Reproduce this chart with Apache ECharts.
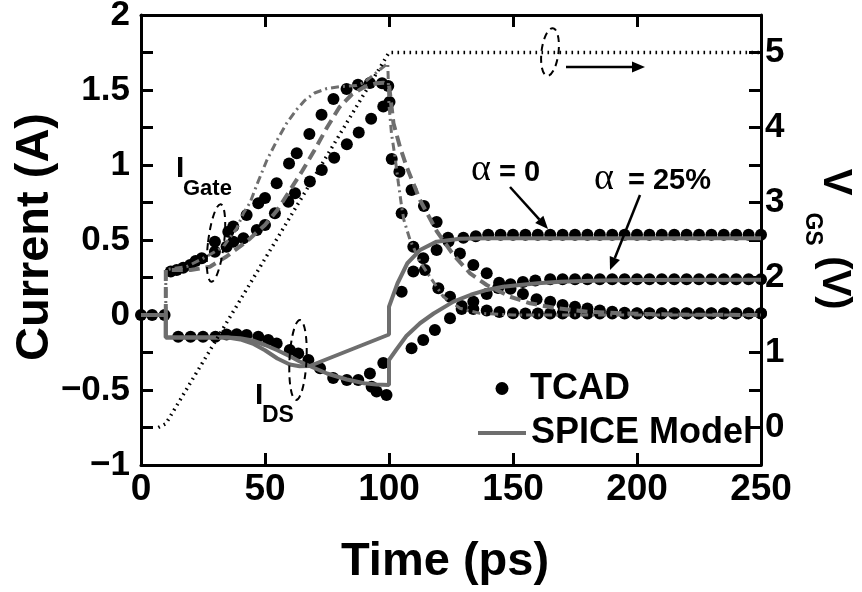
<!DOCTYPE html>
<html>
<head>
<meta charset="utf-8">
<script src="https://cdn.jsdelivr.net/npm/echarts@6/dist/echarts.min.js"></script>
<style>html,body{margin:0;padding:0;background:#fff}#c{width:862px;height:592px}</style>
</head>
<body>
<div id="c"></div>
<script>
// ---------- data (time in ps, current in A, voltage in V) ----------
const xTicks = [0, 50, 100, 150, 200, 250];
const yLeftTicks = [-1, -0.5, 0, 0.5, 1, 1.5, 2];
const yRightTicks = [0, 1, 2, 3, 4, 5];

// gate voltage (right axis)
const vgsT = [7, 10, 100, 250];
const vgsV = [0, 0.05, 5, 5];

// SPICE model, drain current, alpha = 0
const spiceDs0T = [0, 10, 10, 35, 40, 45, 50, 55, 60, 64, 68, 100, 100, 103.4, 107.4, 112.5, 119.2, 128.6, 140, 250];
const spiceDs0I = [0, 0, -0.15, -0.15, -0.163, -0.19, -0.235, -0.29, -0.33, -0.342, -0.34, -0.13, 0.055, 0.21, 0.345, 0.433, 0.489, 0.508, 0.512, 0.512];

// SPICE model, drain current, alpha = 25%
const spiceDs25T = [0, 10, 10, 35, 40, 45, 50, 55, 60, 64, 68, 75, 83, 90, 95, 100, 100, 103, 107, 112.5, 118, 126, 133, 139.4, 146, 152.8, 160, 169, 185, 200, 250];
const spiceDs25I = [0, 0, -0.15, -0.15, -0.155, -0.17, -0.2, -0.235, -0.275, -0.31, -0.34, -0.39, -0.43, -0.455, -0.463, -0.467, -0.3, -0.23, -0.14, -0.055, 0.01, 0.089, 0.135, 0.167, 0.188, 0.2, 0.212, 0.222, 0.23, 0.233, 0.235];

// SPICE model, gate current (dashed)
const spiceGateAT = [10, 10, 20, 27.8, 34.5, 42.6, 50, 55, 60, 65, 70, 75, 80, 85, 90, 95, 98, 100, 101.8, 104.4, 107.1, 112.5, 119.2, 126, 132.7, 139.4, 148.8, 156.9, 167.6, 180, 195, 215, 250];
const spiceGateAI = [0, 0.3, 0.3, 0.322, 0.39, 0.49, 0.6, 0.7, 0.83, 0.96, 1.1, 1.25, 1.385, 1.47, 1.52, 1.545, 1.548, 1.535, 1.278, 1.122, 0.989, 0.767, 0.56, 0.4, 0.278, 0.2, 0.122, 0.078, 0.045, 0.022, 0.01, 0.003, 0];

// SPICE model, gate current (dash-dot)
const spiceGateBT = [10, 10, 11.7, 18.4, 26.5, 33.2, 38.6, 41.3, 44, 47, 50.7, 54.7, 58.8, 62.8, 66, 70, 75, 80, 87, 90, 93.7, 97, 99.5, 100, 101, 102.4, 103.8, 105.1, 106, 108.5, 112.5, 116.5, 121.9, 128.6, 136.7, 150, 250];
const spiceGateBI = [0, 0.3, 0.307, 0.322, 0.39, 0.455, 0.578, 0.678, 0.75, 0.88, 1.03, 1.16, 1.28, 1.37, 1.43, 1.48, 1.51, 1.522, 1.53, 1.55, 1.6, 1.645, 1.678, 1.4, 1.21, 1.056, 0.878, 0.722, 0.633, 0.5, 0.355, 0.255, 0.122, 0.045, 0.011, 0, 0];

// TCAD, gate current (faster rise)
const tcadGate1T = [14.4, 19.8, 24.5, 29.8, 35.2, 37.2, 42.6, 47.3, 50, 54.7, 59.7, 62.8, 67.9, 72.8, 77.6, 82.9, 87.5, 92.3, 97.2, 99.7, 101.1, 104.2, 109.1, 114.1, 119.2, 123.8, 128.6, 134, 139.4, 144.4, 149, 154, 159.5, 165, 170, 175, 180, 185, 190, 195, 200, 205, 210, 215, 220, 225, 230, 235, 240, 245, 250];
const tcadGate1I = [0.3, 0.333, 0.378, 0.489, 0.555, 0.59, 0.667, 0.745, 0.78, 0.878, 1.01, 1.078, 1.207, 1.335, 1.44, 1.506, 1.535, 1.547, 1.545, 1.527, 1.04, 0.955, 0.833, 0.727, 0.62, 0.515, 0.41, 0.333, 0.278, 0.215, 0.175, 0.14, 0.105, 0.089, 0.067, 0.055, 0.044, 0.03, 0.022, 0.015, 0.012, 0.012, 0.012, 0.012, 0.012, 0.012, 0.012, 0.012, 0.012, 0.012, 0.012];

// TCAD, gate current (slower rise)
const tcadGate2T = [12, 17, 22, 29.8, 34.5, 37.2, 41.3, 46.7, 50, 54, 59.4, 62.1, 68.1, 72.9, 77.9, 83, 87.8, 92.8, 97.7, 100.2, 105.1, 109.8, 114.5, 119.9, 124.6, 129.3, 134, 139.4, 144.5, 150, 155, 160, 165, 170, 175, 180, 185, 190, 195, 200, 205, 210, 215, 220, 225, 230, 235, 240, 245, 250];
const tcadGate2I = [0.29, 0.315, 0.36, 0.422, 0.455, 0.489, 0.511, 0.567, 0.6, 0.678, 0.755, 0.811, 0.89, 0.967, 1.049, 1.138, 1.217, 1.308, 1.39, 1.42, 0.678, 0.455, 0.3, 0.178, 0.122, 0.06, 0.04, 0.03, 0.02, 0.012, 0.01, 0.01, 0.01, 0.01, 0.01, 0.01, 0.01, 0.01, 0.01, 0.01, 0.01, 0.01, 0.01, 0.01, 0.01, 0.01, 0.01, 0.01, 0.01, 0.01];

// TCAD, drain current, alpha = 0
const tcadDs0T = [0, 4.5, 9.5, 15, 20, 25, 30, 34.5, 42.6, 51.3, 60, 67.5, 77.5, 87.6, 92.3, 97.7, 105.1, 109.8, 113.8, 119.2, 124, 130, 135, 140, 145, 150, 155, 160, 165, 170, 175, 180, 185, 190, 195, 200, 205, 210, 215, 220, 225, 230, 235, 240, 245, 250];
const tcadDs0I = [0, 0, 0, -0.145, -0.145, -0.145, -0.145, -0.13, -0.133, -0.167, -0.233, -0.3, -0.42, -0.433, -0.39, -0.32, 0.155, 0.29, 0.378, 0.433, 0.49, 0.515, 0.525, 0.535, 0.535, 0.535, 0.535, 0.535, 0.535, 0.535, 0.535, 0.535, 0.535, 0.535, 0.535, 0.535, 0.535, 0.535, 0.535, 0.535, 0.535, 0.535, 0.535, 0.535, 0.535, 0.535];

// TCAD, drain current, alpha = 25%
const tcadDs25T = [38.6, 47.3, 54.7, 63.4, 72.2, 83, 93, 95, 99, 109.1, 113.8, 118.5, 124.6, 129.3, 134, 139.4, 144, 149, 154, 159, 165, 170, 175, 180, 185, 190, 195, 200, 205, 210, 215, 220, 225, 230, 235, 240, 245, 250];
const tcadDs25I = [-0.129, -0.145, -0.19, -0.256, -0.355, -0.433, -0.478, -0.51, -0.533, -0.222, -0.167, -0.1, -0.022, 0.04, 0.089, 0.14, 0.18, 0.205, 0.22, 0.23, 0.238, 0.238, 0.238, 0.238, 0.238, 0.238, 0.238, 0.238, 0.238, 0.238, 0.238, 0.238, 0.238, 0.238, 0.238, 0.238, 0.238, 0.238];

// ---------- chart ----------
const FONT = '"Liberation Sans", Arial, Helvetica, sans-serif';
const SERIF = '"Liberation Serif", "Times New Roman", serif';
const GRAY = '#6e6e6e';
const BLACK = '#000';

function pairs(t, v) { return t.map((x, i) => [x, v[i]]); }
function near(v, list) { return list.some(u => Math.abs(u - v) < 1e-6); }
function fmt(v) { return String(Math.round(v * 100) / 100).replace('-', '\u2212'); }

function arrow(x1, y1, x2, y2) {
  const L = 13, W = 5.5;
  const dx = x2 - x1, dy = y2 - y1, len = Math.hypot(dx, dy);
  const ux = dx / len, uy = dy / len;
  const bx = x2 - ux * L, by = y2 - uy * L;
  return [
    { type: 'line', shape: { x1: x1, y1: y1, x2: bx, y2: by }, style: { stroke: BLACK, lineWidth: 2.5 }, z: 100 },
    { type: 'polygon', shape: { points: [[x2, y2], [bx - uy * W, by + ux * W], [bx + uy * W, by - ux * W]] }, style: { fill: BLACK }, z: 100 }
  ];
}
function ellipse(cx, cy, rx, ry, rot) {
  return { type: 'ellipse', x: cx, y: cy, rotation: rot, shape: { cx: 0, cy: 0, rx: rx, ry: ry },
           style: { fill: 'none', stroke: BLACK, lineWidth: 2, lineDash: [7, 5] }, z: 100 };
}
function txt(text, x, y, font, align, rot) {
  return { type: 'text', x: x, y: y, rotation: rot || 0, z: 100,
           style: { text: text, font: font, fill: BLACK, align: align || 'left', verticalAlign: 'middle' } };
}

const axisLine = { show: true, onZero: false, lineStyle: { color: BLACK, width: 3 } };
const axisTick = { show: true, inside: true, length: 12, lineStyle: { color: BLACK, width: 3 } };
const lblBase = { color: BLACK, fontFamily: FONT, fontWeight: 'bold' };

const tcadStyle = { type: 'scatter', symbol: 'circle', symbolSize: 12, itemStyle: { color: BLACK, opacity: 1 }, clip: false, z: 2, silent: true };
const lineBase = { type: 'line', showSymbol: false, symbol: 'none', clip: false, z: 3, silent: true };

const option = {
  animation: false,
  backgroundColor: '#fff',
  grid: { left: 141, top: 15, right: 101, bottom: 127, outerBoundsMode: 'none', containLabel: false },
  xAxis: [
    { type: 'value', min: 0, max: 250, interval: 50, position: 'bottom',
      axisLine: axisLine, axisTick: axisTick, splitLine: { show: false },
      axisLabel: Object.assign({ fontSize: 37, margin: 6,
        formatter: v => near(v, xTicks) ? String(v) : '' }, lblBase) },
    { type: 'value', min: 0, max: 250, interval: 50, position: 'top',
      axisLine: axisLine, axisTick: axisTick, splitLine: { show: false }, axisLabel: { show: false } }
  ],
  yAxis: [
    { type: 'value', min: -1, max: 2, interval: 0.25, position: 'left',
      axisLine: axisLine, axisTick: axisTick, splitLine: { show: false },
      axisLabel: Object.assign({ fontSize: 35, margin: 11,
        formatter: v => near(v, yLeftTicks) ? fmt(v) : '' }, lblBase) },
    { type: 'value', min: -0.5, max: 5.5, interval: 0.5, position: 'right',
      axisLine: axisLine, axisTick: axisTick, splitLine: { show: false },
      axisLabel: Object.assign({ fontSize: 35, margin: 4,
        formatter: v => near(v, yRightTicks) ? String(Math.round(v)) : '' }, lblBase) }
  ],
  series: [
    Object.assign({ name: 'TCAD', data: pairs(tcadGate1T, tcadGate1I) }, tcadStyle),
    Object.assign({ name: 'TCAD', data: pairs(tcadGate2T, tcadGate2I) }, tcadStyle),
    Object.assign({ name: 'TCAD', data: pairs(tcadDs0T, tcadDs0I) }, tcadStyle),
    Object.assign({ name: 'TCAD', data: pairs(tcadDs25T, tcadDs25I) }, tcadStyle),
    Object.assign({ name: 'SPICE Model', data: pairs(spiceDs0T, spiceDs0I), lineStyle: { color: GRAY, width: 4, opacity: 1 } }, lineBase),
    Object.assign({ name: 'SPICE Model', data: pairs(spiceDs25T, spiceDs25I), lineStyle: { color: GRAY, width: 4, opacity: 1 } }, lineBase),
    Object.assign({ name: 'SPICE gate A', data: pairs(spiceGateAT, spiceGateAI), lineStyle: { color: GRAY, width: 4, type: [11, 6], opacity: 1 } }, lineBase),
    Object.assign({ name: 'SPICE gate B', data: pairs(spiceGateBT, spiceGateBI), lineStyle: { color: GRAY, width: 3, type: [8, 4, 2, 4], opacity: 1 } }, lineBase),
    Object.assign({ name: 'VGS', yAxisIndex: 1, data: pairs(vgsT, vgsV), lineStyle: { color: BLACK, width: 3.5, type: [1.6, 4.4], opacity: 1 } }, lineBase)
  ],
  graphic: [].concat(
    [
      txt('Current (A)', 35, 237, 'bold 47px ' + FONT, 'center', Math.PI / 2),
      txt('Time (ps)', 445, 562, 'bold 47px ' + FONT, 'center', 0),
      txt('V', 835, 182, 'bold 40px ' + FONT, 'center', -Math.PI / 2),
      txt('GS', 812, 229, 'bold 23px ' + FONT, 'center', -Math.PI / 2),
      txt('(V)', 834, 283, 'bold 40px ' + FONT, 'center', -Math.PI / 2),
      txt('I', 176, 169, 'bold 30px ' + FONT, 'left'),
      txt('Gate', 183, 189, 'bold 22px ' + FONT, 'left'),
      txt('I', 255, 396, 'bold 30px ' + FONT, 'left'),
      txt('DS', 262, 416, 'bold 23px ' + FONT, 'left'),
      txt('\u03b1', 471, 170, '38px ' + SERIF, 'left'),
      txt('= 0', 499, 173, 'bold 29px ' + FONT, 'left'),
      txt('\u03b1', 594, 179, '38px ' + SERIF, 'left'),
      txt('= 25%', 628, 181, 'bold 29px ' + FONT, 'left'),
      // legend
      { type: 'circle', shape: { cx: 502, cy: 388.5, r: 6.5 }, style: { fill: BLACK }, z: 100 },
      { type: 'line', shape: { x1: 478, y1: 433, x2: 526, y2: 433 }, style: { stroke: GRAY, lineWidth: 4 }, z: 100 },
      txt('TCAD', 530, 389.5, 'bold 36px ' + FONT, 'left'),
      txt('SPICE Model', 531, 433.5, 'bold 36px ' + FONT, 'left'),
      ellipse(216, 243, 8, 39, -0.12),
      ellipse(298, 360, 8.5, 40, -0.05),
      ellipse(550, 52, 8.5, 24, -0.12)
    ],
    arrow(566, 67, 645, 67),
    arrow(510, 187, 548, 229),
    arrow(640, 195, 610, 270)
  )
};

const chart = echarts.init(document.getElementById('c'), null, { renderer: 'canvas' });
chart.setOption(option);
</script>
</body>
</html>
